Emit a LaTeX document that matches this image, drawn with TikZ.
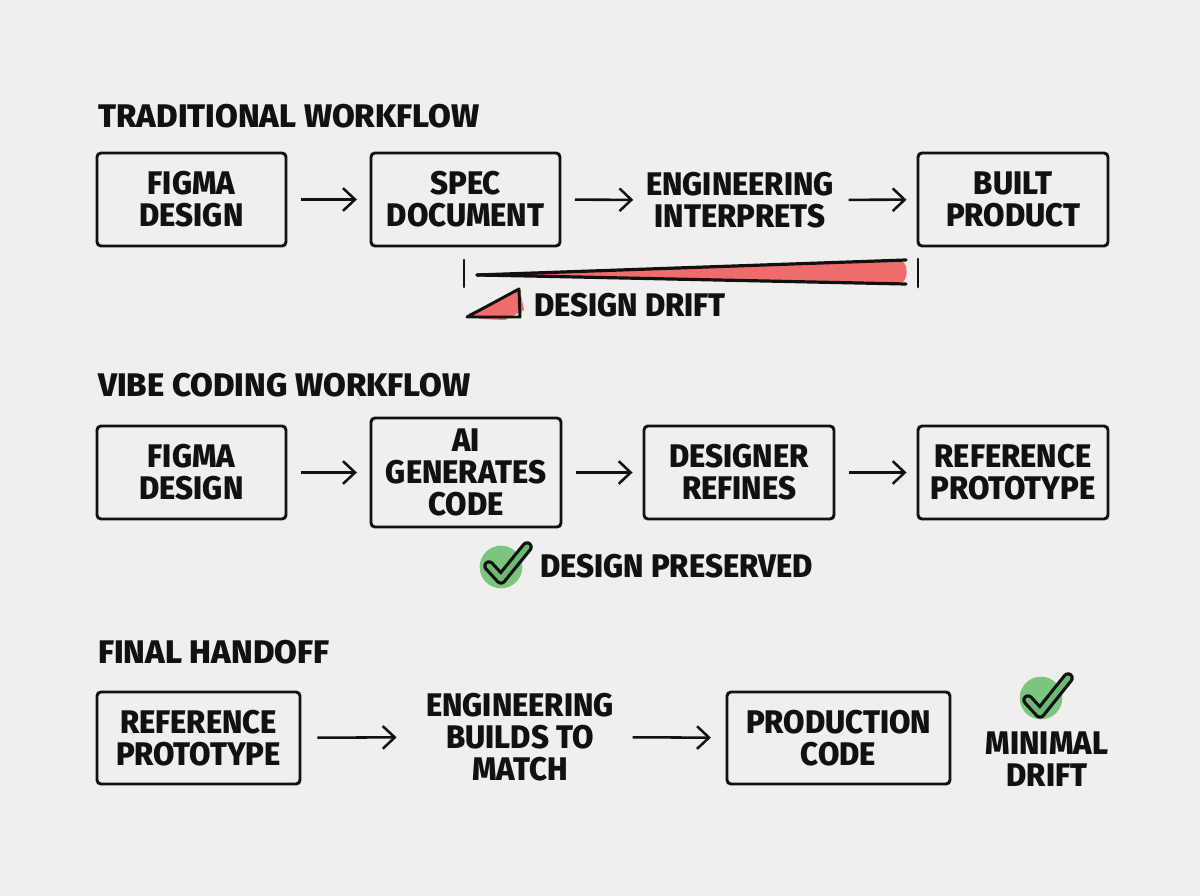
\documentclass[tikz,border=0pt]{standalone}
\usepackage{fontspec}
\setmainfont{Fira Sans}[BoldFont={Fira Sans ExtraBold}]
\newfontfamily\lblfont{Fira Sans ExtraBold}[FakeStretch=0.95]
\newfontfamily\ttlfont{Fira Sans ExtraBold}[FakeStretch=1.01]
\usetikzlibrary{arrows.meta}
\definecolor{paper}{HTML}{EFEFEE}
\definecolor{inkc}{HTML}{111111}
\definecolor{driftred}{HTML}{F06B6B}
\definecolor{okgreen}{HTML}{7CC57F}
\definecolor{okgreenb}{HTML}{6DB873}
\tikzset{
  x=0.75pt,y=-0.75pt,
  lbl/.style={font=\fontsize{24.5pt}{24pt}\lblfont,text=inkc,align=center,inner sep=0pt},
  ttl/.style={font=\fontsize{24.5pt}{24pt}\ttlfont,text=inkc,inner sep=0pt,anchor=west},
  wbox/.style={draw=inkc,line width=2.2pt,rounded corners=3pt,inner sep=0pt,fill=none},
  flow/.style={draw=inkc,line width=1.9pt,-{Straight Barb[length=9pt,width=17pt,line width=1.9pt]}},
  ink/.style={draw=inkc,line width=2.2pt,line cap=round,line join=round},
}
\newcommand{\boxat}[6]{%
  \node[wbox,minimum width={(#4-#2)*0.75pt},minimum height={(#5-#3)*0.75pt}] (#1) at ({(#2+#4)/2},{(#3+#5)/2}) {};
  \node[lbl] (#1t) at ({(#2+#4)/2},{(#3+#5)/2}) {#6};}
\newcommand{\okmark}[6]{%
  \fill[okgreen] (#1,#2) circle[radius=16pt];
  \draw[inkc,line width=8.6pt,line cap=round,line join=round] (#3,#4) -- ++(12,13) -- (#5,#6);
  \draw[okgreenb,line width=3.8pt,line cap=round,line join=round] (#3,#4) -- ++(12,13) -- (#5,#6);}
\begin{document}
\begin{tikzpicture}
\useasboundingbox (0,0) rectangle (1200,896);
\fill[paper] (0,0) rectangle (1200,896);
% Traditional
\node[ttl] (t1) at (98,116) {TRADITIONAL WORKFLOW};
\boxat{a1}{97}{153}{286}{246}{FIGMA\\DESIGN}
\boxat{a2}{371}{153}{560}{246}{SPEC\\DOCUMENT}
\node[lbl] (a3) at (740,200) {ENGINEERING\\INTERPRETS};
\boxat{a4}{918}{153}{1108}{246}{BUILT\\PRODUCT}
\draw[flow,shorten <=10pt,shorten >=9.5pt] (a1) -- (a2);
\draw[flow,shorten <=10pt,shorten >=9.5pt] (a2) -- (a3);
\draw[flow,shorten <=11pt,shorten >=7.5pt] (a3) -- (a4);
% drift wedge
\fill[driftred] (490,274) -- (900,260.5) to[out=0,in=0,looseness=1] (900,283) -- cycle;
\draw[ink,line width=2.4pt] (477,275) -- (906,260);
\draw[ink,line width=2.4pt] (477,275) -- (530,276) -- (906,284);
\draw[ink] (464,260) -- (464,287);
\draw[ink] (918,259) -- (918,287);
\fill[driftred] (468,314) -- (520,290) -- (524,310) -- (505,320) -- (480,319) -- cycle;
\draw[ink] (467,317) -- (519,289) -- (520,317) -- cycle;
\node[lbl,anchor=west] (dd) at (534,305) {DESIGN DRIFT};
% Vibe
\node[ttl] (t2) at (98,385) {VIBE CODING WORKFLOW};
\boxat{b1}{97}{426}{286}{519}{FIGMA\\DESIGN}
\boxat{b2}{371}{418}{561}{527}{AI\\GENERATES\\CODE}
\boxat{b3}{644}{426}{834}{519}{DESIGNER\\REFINES}
\boxat{b4}{918}{426}{1108}{519}{REFERENCE\\PROTOTYPE}
\draw[flow,shorten <=10pt,shorten >=9.5pt] (b1) -- (b2);
\draw[flow,shorten <=10pt,shorten >=7.5pt] (b2) -- (b3);
\draw[flow,shorten <=10pt,shorten >=7.5pt] (b3) -- (b4);
\okmark{501}{567}{489}{566}{527}{547}
\node[lbl,anchor=west] (dp) at (540,566) {DESIGN PRESERVED};
% Final
\node[ttl] (t3) at (98,652) {FINAL HANDOFF};
\boxat{c1}{97}{692}{300}{784}{REFERENCE\\PROTOTYPE}
\node[lbl] (c2) at (520,737) {ENGINEERING\\BUILDS TO\\MATCH};
\boxat{c3}{727}{692}{950}{784}{PRODUCTION\\CODE}
\draw[flow,shorten <=12pt,shorten >=22pt] (c1) -- (c2);
\draw[flow,shorten <=14pt,shorten >=11pt] (c2) -- (c3);
\okmark{1041}{698}{1028}{700}{1068}{678}
\node[lbl] (md) at (1047,759) {MINIMAL\\DRIFT};
\end{tikzpicture}
\end{document}
